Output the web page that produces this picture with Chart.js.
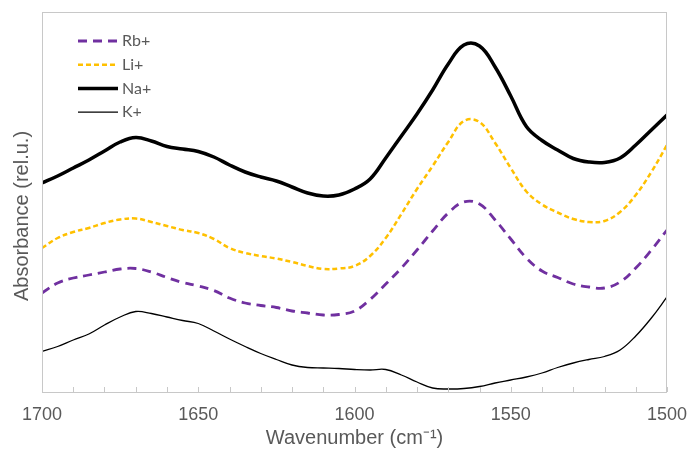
<!DOCTYPE html>
<html>
<head>
<meta charset="utf-8">
<script src="https://cdn.jsdelivr.net/npm/chart.js@4.4.1/dist/chart.umd.min.js"></script>
<style>
  html, body { margin: 0; padding: 0; background: #fff; }
  #wrap { width: 688px; height: 451px; }
</style>
</head>
<body>
<div id="wrap"><canvas id="grafico"></canvas></div>
<script>
// numeros de onda (cm-1)
const wavenumbers = [1700, 1695, 1690, 1685, 1680, 1675, 1670, 1665, 1660, 1655, 1650, 1645, 1640, 1635, 1630, 1625, 1620, 1615, 1610, 1605, 1600,
  1595, 1590, 1585, 1580, 1575, 1570, 1565, 1560, 1555, 1550, 1545, 1540, 1535, 1530, 1525, 1520, 1515, 1510, 1505, 1500];

// absorbancia (unidades relativas)
const rb = [99, 109, 114, 117, 120, 123, 123.5, 120, 114.5, 109.5, 106, 101.5, 94, 89, 86.5, 84.5, 81, 79, 77, 77.5, 81,
  92.5, 108, 124, 142, 161, 179, 190, 188, 172, 153, 134, 121, 114.5, 108, 105, 104, 110, 124, 142, 162];
const li = [144, 154, 160, 164, 169, 172.5, 173.5, 170, 166, 162, 159, 153, 144, 139, 136, 133.5, 130, 126, 123, 123.5, 126,
  136, 154, 178, 203, 226, 250, 271, 270, 249, 224, 200.5, 187.5, 179.5, 173, 170, 171, 180, 197, 220, 247];
const na = [209, 216, 224, 232, 241, 250, 254.5, 251, 245.5, 243, 240.5, 235, 227, 220, 215, 211, 205, 199, 196, 197, 203,
  213, 234, 256, 278, 302, 328, 347, 346, 325, 296, 265.5, 251.5, 242, 233.5, 230, 229.5, 234, 247, 262, 277];
const k = [40.5, 45.5, 52, 58, 67, 75, 80.5, 78.5, 75, 71.5, 68.5, 61, 53, 45.5, 38.5, 32.5, 27, 24.5, 24, 23.5, 22.5,
  22, 22.5, 17, 10, 4, 3, 3.5, 5.5, 9, 12, 15, 19, 24.5, 29, 32.5, 35.5, 42, 56, 74, 95];

const xTicks = [1700, 1650, 1600, 1550, 1500];

function pontos(vals) {
  return wavenumbers.map((w, i) => ({ x: w, y: vals[i] }));
}

const cinza = "#595959";

// caixa do grafico + tracinhos menores + legenda e titulo do eixo y
const extras = {
  id: "extras",
  afterDraw(chart) {
    const c = chart.ctx;
    const a = chart.chartArea;
    const xs = chart.scales.x;
    c.save();
    c.strokeStyle = "#c8c8c8";
    c.lineWidth = 1;
    c.strokeRect(a.left + 0.5, a.top + 0.5, a.right - a.left - 1, a.bottom - a.top);
    for (let w = 1700; w >= 1500; w -= 10) {
      const px = Math.round(xs.getPixelForValue(w)) + 0.5;
      c.beginPath();
      c.moveTo(px, a.bottom);
      c.lineTo(px, a.bottom - 5);
      c.stroke();
    }
    // legenda
    c.font = "16px Lato";
    c.textBaseline = "middle";
    chart.data.datasets.forEach((ds, i) => {
      const y = 41 + i * 23.7;
      c.beginPath();
      c.strokeStyle = ds.borderColor;
      c.lineWidth = ds.borderWidth;
      c.setLineDash(ds.borderDash || []);
      c.moveTo(78, y);
      c.lineTo(118, y);
      c.stroke();
      c.setLineDash([]);
      c.fillStyle = cinza;
      c.fillText(ds.label, 122, y);
    });
    // titulo do eixo y
    c.translate(22, 216);
    c.rotate(-Math.PI / 2);
    c.font = "20px 'Liberation Sans'";
    c.textAlign = "center";
    c.fillText("Absorbance (rel.u.)", 0, 0);
    c.restore();
  }
};

new Chart(document.getElementById("grafico"), {
  type: "line",
  data: {
    datasets: [
      { label: "Rb+", data: pontos(rb), borderColor: "#7030a0", borderWidth: 2.8, borderDash: [9, 6] },
      { label: "Li+", data: pontos(li), borderColor: "#ffc000", borderWidth: 2.5, borderDash: [5, 3] },
      { label: "Na+", data: pontos(na), borderColor: "#000000", borderWidth: 3.5 },
      { label: "K+", data: pontos(k), borderColor: "#000000", borderWidth: 1.3 }
    ]
  },
  options: {
    responsive: true,
    maintainAspectRatio: false,
    animation: false,
    elements: { point: { radius: 0 }, line: { tension: 0.4 } },
    layout: { padding: { left: 0, right: 21, top: 12, bottom: 0 } },
    plugins: { legend: { display: false }, tooltip: { enabled: false } },
    scales: {
      x: {
        type: "linear",
        reverse: true,
        min: 1500,
        max: 1700,
        afterBuildTicks: (s) => { s.ticks = xTicks.map(v => ({ value: v })); },
        afterFit: (s) => { s.height = 59; s.paddingLeft = 0; s.paddingRight = 0; },
        grid: { display: false },
        border: { display: false },
        ticks: {
          color: cinza,
          font: { family: "Liberation Sans", size: 18 },
          padding: 4,
          maxRotation: 0,
          callback: (v) => String(v)
        },
        title: {
          display: true,
          text: "Wavenumber (cm⁻¹)",
          color: cinza,
          font: { family: "Liberation Sans", size: 20 },
          padding: { top: 0, bottom: 1 }
        }
      },
      y: {
        min: 0,
        max: 380,
        afterFit: (s) => { s.width = 42; },
        grid: { display: false },
        border: { display: false },
        ticks: { display: false }
      }
    }
  },
  plugins: [extras]
});
</script>
</body>
</html>
